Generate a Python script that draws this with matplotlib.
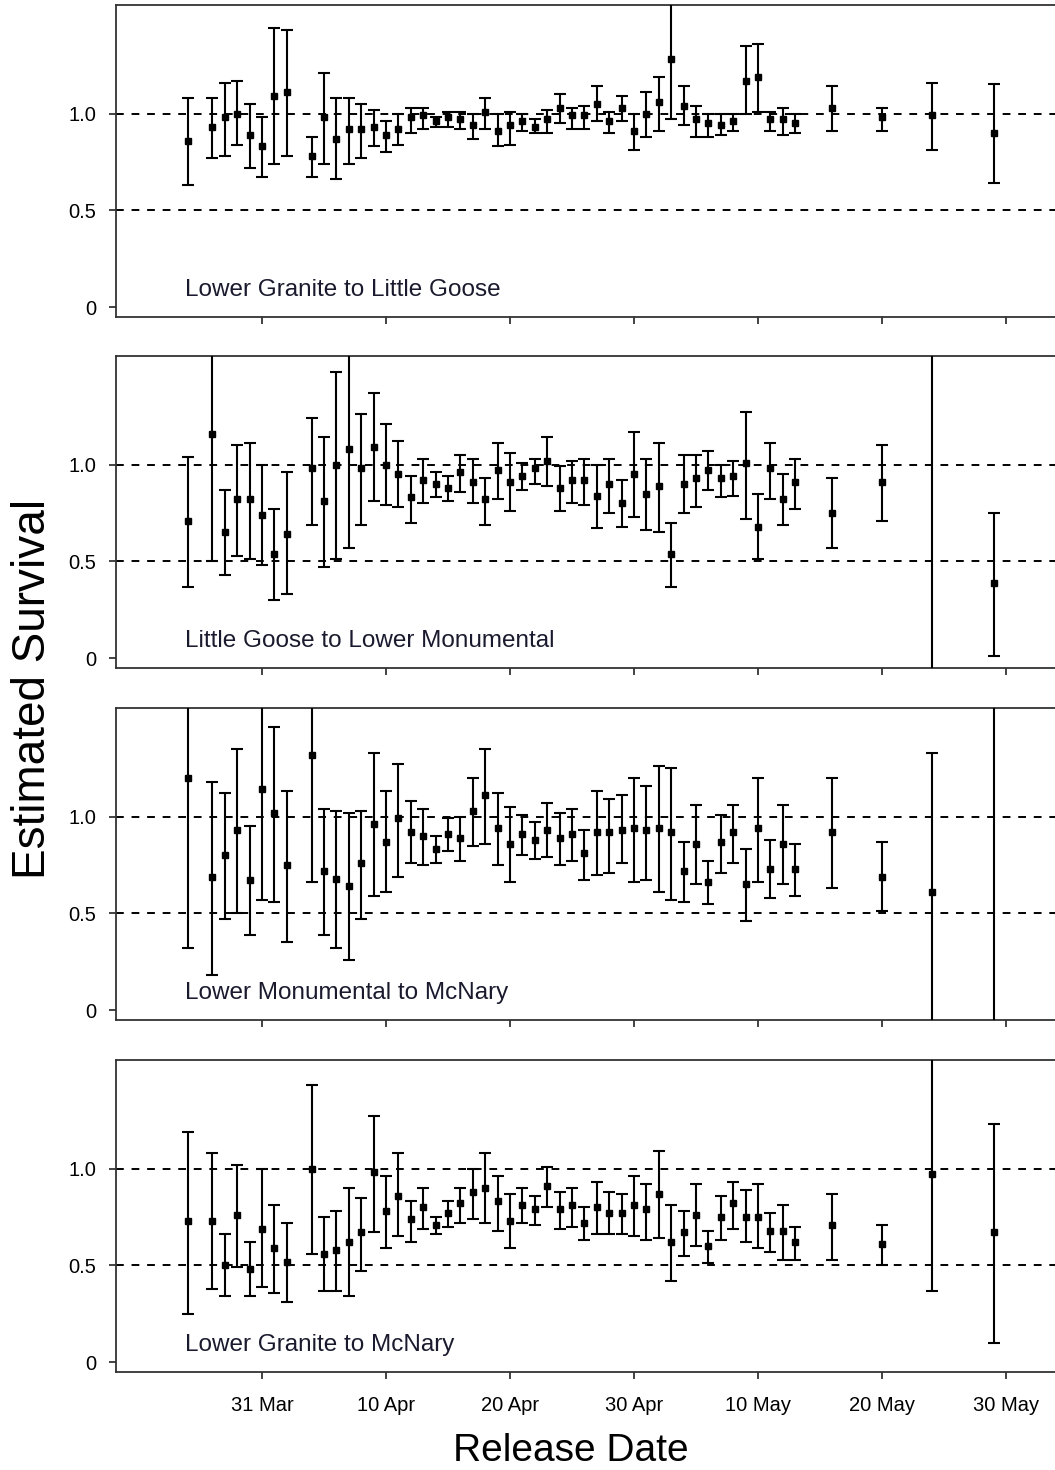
import numpy as np
import pandas as pd
import matplotlib
matplotlib.use("Agg")
import matplotlib.pyplot as plt
import matplotlib.dates as mdates

plt.rcParams["font.family"] = ["Liberation Sans", "DejaVu Sans"]

release_dates = [
    "03-25", "03-27", "03-28", "03-29", "03-30", "03-31", "04-01", "04-02",
    "04-04", "04-05", "04-06", "04-07", "04-08", "04-09", "04-10", "04-11",
    "04-12", "04-13", "04-14", "04-15", "04-16", "04-17", "04-18", "04-19",
    "04-20", "04-21", "04-22", "04-23", "04-24", "04-25", "04-26", "04-27",
    "04-28", "04-29", "04-30", "05-01", "05-02", "05-03", "05-04", "05-05",
    "05-06", "05-07", "05-08", "05-09", "05-10", "05-11", "05-12", "05-13",
    "05-16", "05-20", "05-24", "05-29",
]

panel_names = [
    "Lower Granite to Little Goose",
    "Little Goose to Lower Monumental",
    "Lower Monumental to McNary",
    "Lower Granite to McNary",
]

# estimates, lower and upper 95% limits (values beyond the axis are clipped)
est_lgr_lgo = [0.86, 0.93, 0.98, 1.00, 0.89, 0.83, 1.09, 1.11, 0.78, 0.98, 0.87, 0.92, 0.92,
               0.93, 0.89, 0.92, 0.98, 0.99, 0.96, 0.98, 0.97, 0.94, 1.01, 0.91, 0.94, 0.96,
               0.93, 0.97, 1.03, 0.99, 0.99, 1.05, 0.96, 1.03, 0.91, 1.00, 1.06, 1.28, 1.04,
               0.97, 0.95, 0.94, 0.96, 1.17, 1.19, 0.97, 0.97, 0.95, 1.03, 0.98, 0.99, 0.90]
lo_lgr_lgo = [0.63, 0.77, 0.78, 0.84, 0.72, 0.67, 0.74, 0.78, 0.67, 0.74, 0.66, 0.74, 0.77,
              0.83, 0.80, 0.84, 0.90, 0.92, 0.93, 0.93, 0.92, 0.87, 0.92, 0.83, 0.84, 0.91,
              0.90, 0.90, 0.95, 0.92, 0.92, 0.96, 0.90, 0.96, 0.81, 0.88, 0.91, 0.97, 0.94,
              0.88, 0.88, 0.89, 0.91, 1.00, 1.01, 0.91, 0.89, 0.90, 0.91, 0.91, 0.81, 0.64]
hi_lgr_lgo = [1.08, 1.08, 1.16, 1.17, 1.05, 0.98, 1.44, 1.43, 0.88, 1.21, 1.08, 1.08, 1.05,
              1.02, 0.96, 1.00, 1.03, 1.03, 0.98, 1.01, 1.01, 1.00, 1.08, 1.00, 1.01, 1.00,
              0.97, 1.02, 1.10, 1.03, 1.04, 1.14, 1.01, 1.09, 1.00, 1.11, 1.19, 1.70, 1.14,
              1.04, 1.00, 1.00, 1.00, 1.35, 1.36, 1.01, 1.03, 1.00, 1.14, 1.03, 1.16, 1.15]

est_lgo_lmn = [0.71, 1.16, 0.65, 0.82, 0.82, 0.74, 0.54, 0.64, 0.98, 0.81, 1.00, 1.08, 0.98,
               1.09, 1.00, 0.95, 0.83, 0.92, 0.90, 0.88, 0.96, 0.91, 0.82, 0.97, 0.91, 0.94,
               0.98, 1.02, 0.88, 0.92, 0.92, 0.84, 0.90, 0.80, 0.95, 0.85, 0.89, 0.54, 0.90,
               0.93, 0.97, 0.93, 0.94, 1.01, 0.68, 0.98, 0.82, 0.91, 0.75, 0.91, 2.00, 0.39]
lo_lgo_lmn = [0.37, 0.50, 0.43, 0.53, 0.51, 0.48, 0.30, 0.33, 0.69, 0.47, 0.51, 0.57, 0.69,
              0.81, 0.79, 0.78, 0.70, 0.80, 0.83, 0.81, 0.86, 0.80, 0.69, 0.82, 0.76, 0.87,
              0.90, 0.89, 0.76, 0.80, 0.79, 0.67, 0.75, 0.68, 0.73, 0.66, 0.65, 0.37, 0.75,
              0.78, 0.87, 0.83, 0.84, 0.72, 0.51, 0.82, 0.69, 0.77, 0.57, 0.71, -0.50, 0.01]
hi_lgo_lmn = [1.04, 1.70, 0.87, 1.10, 1.11, 1.00, 0.77, 0.96, 1.24, 1.14, 1.48, 1.70, 1.26,
              1.37, 1.21, 1.12, 0.94, 1.03, 0.96, 0.94, 1.05, 1.03, 0.93, 1.11, 1.06, 1.01,
              1.03, 1.14, 0.99, 1.02, 1.03, 1.00, 1.03, 0.92, 1.17, 1.03, 1.11, 0.70, 1.05,
              1.05, 1.07, 1.00, 1.02, 1.27, 0.85, 1.11, 0.95, 1.03, 0.93, 1.10, 4.00, 0.75]

est_lmn_mcn = [1.20, 0.69, 0.80, 0.93, 0.67, 1.14, 1.02, 0.75, 1.32, 0.72, 0.68, 0.64, 0.76,
               0.96, 0.87, 0.99, 0.92, 0.90, 0.83, 0.91, 0.89, 1.03, 1.11, 0.94, 0.86, 0.91,
               0.88, 0.93, 0.89, 0.91, 0.81, 0.92, 0.92, 0.93, 0.94, 0.93, 0.94, 0.92, 0.72,
               0.86, 0.66, 0.87, 0.92, 0.65, 0.94, 0.73, 0.86, 0.73, 0.92, 0.69, 0.61, 2.00]
lo_lmn_mcn = [0.32, 0.18, 0.47, 0.50, 0.39, 0.57, 0.56, 0.35, 0.66, 0.39, 0.32, 0.26, 0.47,
              0.59, 0.61, 0.69, 0.76, 0.75, 0.76, 0.82, 0.77, 0.85, 0.86, 0.75, 0.66, 0.80,
              0.78, 0.79, 0.75, 0.77, 0.67, 0.70, 0.71, 0.76, 0.66, 0.67, 0.61, 0.57, 0.56,
              0.65, 0.55, 0.71, 0.76, 0.46, 0.66, 0.58, 0.65, 0.59, 0.63, 0.51, -0.50, -0.50]
hi_lmn_mcn = [1.70, 1.18, 1.12, 1.35, 0.95, 1.70, 1.46, 1.13, 1.70, 1.04, 1.03, 1.02, 1.03,
              1.33, 1.13, 1.27, 1.08, 1.04, 0.90, 0.99, 1.00, 1.20, 1.35, 1.12, 1.05, 1.01,
              0.97, 1.07, 1.02, 1.04, 0.93, 1.13, 1.09, 1.11, 1.20, 1.16, 1.26, 1.25, 0.87,
              1.06, 0.77, 1.01, 1.06, 0.83, 1.20, 0.88, 1.06, 0.86, 1.20, 0.87, 1.33, 4.00]

est_lgr_mcn = [0.73, 0.73, 0.50, 0.76, 0.48, 0.69, 0.59, 0.52, 1.00, 0.56, 0.58, 0.62, 0.67,
               0.98, 0.78, 0.86, 0.74, 0.80, 0.71, 0.77, 0.82, 0.88, 0.90, 0.83, 0.73, 0.81,
               0.79, 0.91, 0.79, 0.81, 0.72, 0.80, 0.77, 0.77, 0.81, 0.79, 0.87, 0.62, 0.67,
               0.76, 0.60, 0.75, 0.82, 0.75, 0.75, 0.68, 0.68, 0.62, 0.71, 0.61, 0.97, 0.67]
lo_lgr_mcn = [0.25, 0.38, 0.34, 0.49, 0.34, 0.39, 0.36, 0.31, 0.56, 0.37, 0.37, 0.34, 0.47,
              0.67, 0.59, 0.65, 0.62, 0.69, 0.66, 0.70, 0.72, 0.74, 0.72, 0.68, 0.59, 0.72,
              0.71, 0.80, 0.69, 0.70, 0.63, 0.66, 0.66, 0.66, 0.65, 0.63, 0.64, 0.42, 0.55,
              0.60, 0.51, 0.63, 0.69, 0.62, 0.59, 0.57, 0.53, 0.53, 0.53, 0.50, 0.37, 0.10]
hi_lgr_mcn = [1.19, 1.08, 0.66, 1.02, 0.62, 1.00, 0.81, 0.72, 1.43, 0.75, 0.78, 0.90, 0.85,
              1.27, 0.96, 1.08, 0.83, 0.90, 0.75, 0.83, 0.90, 1.00, 1.08, 0.96, 0.87, 0.90,
              0.86, 1.01, 0.88, 0.90, 0.80, 0.93, 0.88, 0.87, 0.96, 0.92, 1.09, 0.81, 0.78,
              0.92, 0.68, 0.86, 0.93, 0.89, 0.92, 0.77, 0.81, 0.70, 0.87, 0.71, 1.70, 1.23]

panels = [
    (est_lgr_lgo, lo_lgr_lgo, hi_lgr_lgo),
    (est_lgo_lmn, lo_lgo_lmn, hi_lgo_lmn),
    (est_lmn_mcn, lo_lmn_mcn, hi_lmn_mcn),
    (est_lgr_mcn, lo_lgr_mcn, hi_lgr_mcn),
]

dates = pd.to_datetime(["2008-" + d for d in release_dates])
base = pd.Timestamp("2008-03-31")
tick_dates = [base + pd.Timedelta(days=10 * k) for k in range(7)]

W, H = 1055, 1470
fig = plt.figure(figsize=(W / 100, H / 100), dpi=100)

px_per_day = 12.4
ax_left, ax_w, ax_h = 116, 945, 312
panel_tops = [5, 356, 708, 1060]
x_lo = mdates.date2num(base) - 11.77
x_hi = x_lo + ax_w / px_per_day

for i, (top, name, (est, lo, hi)) in enumerate(zip(panel_tops, panel_names, panels)):
    ax = fig.add_axes([ax_left / W, 1 - (top + ax_h) / H, ax_w / W, ax_h / H])
    est = np.array(est)
    lo = np.array(lo)
    hi = np.array(hi)
    for yv in (0.5, 1.0):
        ax.axhline(yv, color="black", lw=1.4, dashes=(4, 4), zorder=1)
    ax.errorbar(dates, est, yerr=[est - lo, hi - est], fmt="s", color="black",
                ms=4.2, elinewidth=1.5, capsize=4, capthick=1.5, zorder=3)
    ax.set_xlim(x_lo, x_hi)
    ax.set_ylim(-0.05, 1.56)
    ax.set_yticks([0, 0.5, 1.0])
    ax.set_yticklabels(["0", "0.5", "1.0"])
    ax.set_xticks(tick_dates)
    ax.xaxis.set_major_formatter(mdates.DateFormatter("%d %b"))
    ax.tick_params(axis="both", direction="out", length=5, width=1.2,
                   labelsize=14.5, color="#222222", pad=9)
    ax.tick_params(axis="x", pad=12)
    if i < 3:
        ax.tick_params(axis="x", labelbottom=False)
    ax.spines["right"].set_visible(False)
    for s in ("top", "left", "bottom"):
        ax.spines[s].set_linewidth(1.3)
        ax.spines[s].set_color("#333333")
    ax.text(0.073, 0.085, name, transform=ax.transAxes, ha="left", va="center",
            fontsize=17.5, color="#1a1a2e")

fig.text(33 / W, 1 - 689 / H, "Estimated Survival", rotation=90, ha="center",
         va="center", fontsize=33)
fig.text(571 / W, 1 - 1451 / H, "Release Date", ha="center", va="center", fontsize=28)

fig.savefig("out.png", dpi=100)
